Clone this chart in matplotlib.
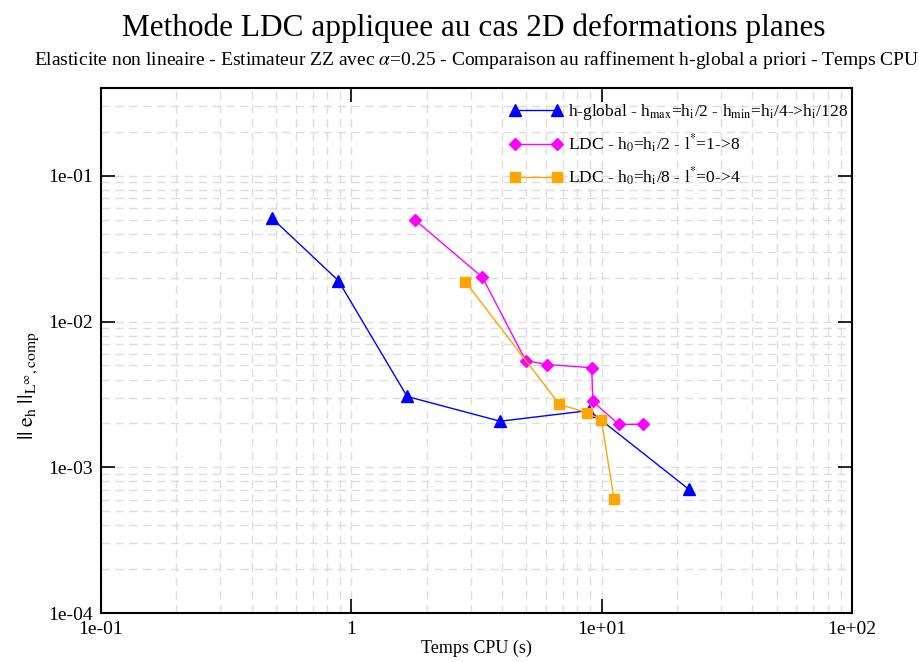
import numpy as np
import matplotlib
matplotlib.use('Agg')
import matplotlib.pyplot as plt
from matplotlib.ticker import FixedLocator, FixedFormatter, LogLocator, NullFormatter

plt.rcParams['font.family'] = ['Liberation Serif', 'DejaVu Serif']
plt.rcParams['mathtext.fontset'] = 'stix'

# h-global
t_glob = [0.48, 0.887, 1.67, 3.93, 8.9, 22.3]
e_glob = [0.0515, 0.0191, 0.00306, 0.00207, 0.00245, 0.000706]

# LDC h0 = hi/2
t_ldc2 = [1.79, 3.34, 4.97, 6.07, 9.13, 9.21, 11.7, 14.6]
e_ldc2 = [0.050, 0.0201, 0.0054, 0.00507, 0.00482, 0.00283, 0.00197, 0.00197]

# LDC h0 = hi/8
t_ldc8 = [2.85, 6.78, 8.72, 9.97, 11.2]
e_ldc8 = [0.0188, 0.0027, 0.00237, 0.00212, 0.00061]

xticks = [0.1, 1, 10, 100]
xlabels = ['1e-01', '1', '1e+01', '1e+02']
yticks = [1e-4, 1e-3, 1e-2, 1e-1]
ylabels = ['1e-04', '1e-03', '1e-02', '1e-01']

fig = plt.figure(figsize=(9.2, 6.62), dpi=100)
ax = fig.add_axes([0.1098, 0.074, 0.8163, 0.793])

ax.plot(t_glob, e_glob, color='#0000FF', lw=1, marker='^', ms=8,
        label=r'h-global - h$_{\mathrm{max}}$=h$_{\mathrm{i}}$/2 - h$_{\mathrm{min}}$=h$_{\mathrm{i}}$/4->h$_{\mathrm{i}}$/128')
ax.plot(t_ldc2, e_ldc2, color='#FF00FF', lw=1, marker='D', ms=6.5,
        label=r'LDC - h$_{0}$=h$_{\mathrm{i}}$/2 - l$^{*}$=1->8')
ax.plot(t_ldc8, e_ldc8, color='#FFA500', lw=1, marker='s', ms=7,
        label=r'LDC - h$_{0}$=h$_{\mathrm{i}}$/8 - l$^{*}$=0->4')

ax.set_xscale('log')
ax.set_yscale('log')
ax.set_xlim(0.1, 100)
ax.set_ylim(1e-4, 0.4)

ax.xaxis.set_major_locator(FixedLocator(xticks))
ax.xaxis.set_major_formatter(FixedFormatter(xlabels))
ax.yaxis.set_major_locator(FixedLocator(yticks))
ax.yaxis.set_major_formatter(FixedFormatter(ylabels))
ax.xaxis.set_minor_locator(LogLocator(base=10, subs=np.arange(2, 10)))
ax.yaxis.set_minor_locator(LogLocator(base=10, subs=np.arange(2, 10)))
ax.xaxis.set_minor_formatter(NullFormatter())
ax.yaxis.set_minor_formatter(NullFormatter())

ax.tick_params(which='major', direction='in', length=10, width=1.2,
               top=True, right=True, labelsize=14, pad=6)
ax.tick_params(which='minor', length=0)
ax.grid(which='both', color='#dddddd', linestyle=(0, (6, 4)), lw=1)
ax.set_axisbelow(True)
for s in ax.spines.values():
    s.set_linewidth(1.5)

ax.set_xlabel('Temps CPU (s)', fontsize=13, labelpad=1)
ax.set_ylabel(r'$||\;\mathrm{e}_{\mathrm{h}}\;||_{\mathrm{L}^{\infty}\mathrm{, comp}}$', fontsize=16)
ax.yaxis.set_label_coords(-0.08, 0.434)

fig.text(0.515, 0.945, 'Methode LDC appliquee au cas 2D deformations planes',
         ha='center', va='baseline', fontsize=22.5)
fig.text(0.518, 0.9018, r'Elasticite non lineaire - Estimateur ZZ avec $\alpha$=0.25 - Comparaison au raffinement h-global a priori - Temps CPU',
         ha='center', va='baseline', fontsize=14)

ax.legend(loc='upper right', bbox_to_anchor=(1.0, 0.981), frameon=False,
          fontsize=12.5, handlelength=3.0, numpoints=2, borderaxespad=0.0,
          borderpad=0.25, labelspacing=0.6, handletextpad=0.3)

fig.savefig('out.png', dpi=100)
